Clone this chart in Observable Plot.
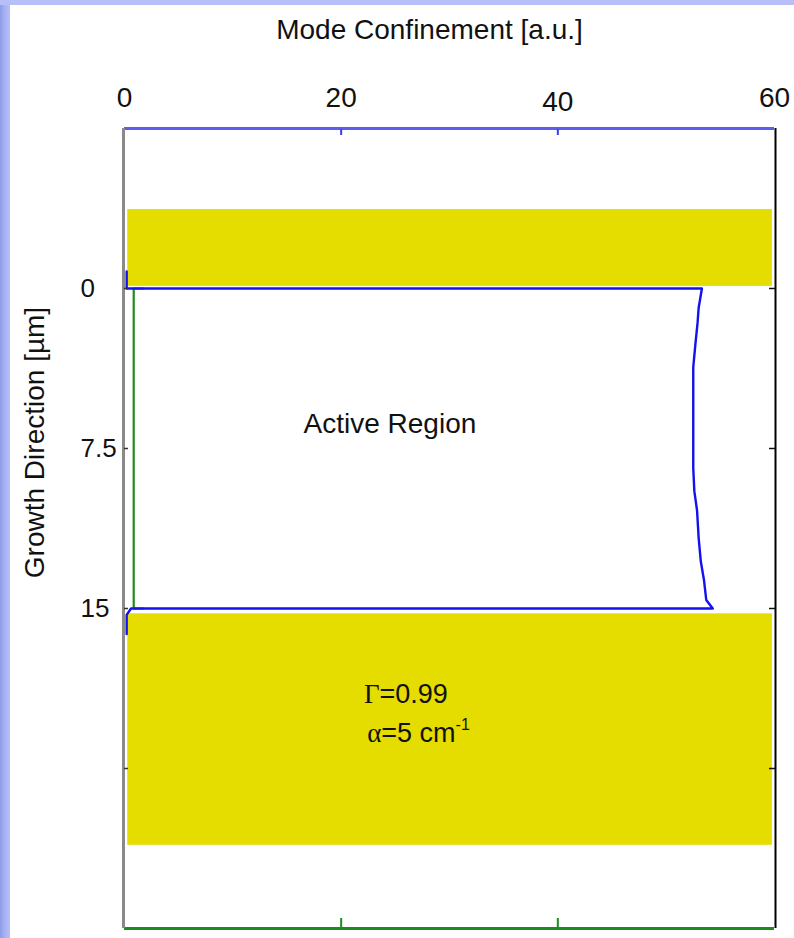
<!DOCTYPE html>
<html><head><meta charset="utf-8">
<script src="https://cdn.jsdelivr.net/npm/d3@7"></script>
<script src="https://cdn.jsdelivr.net/npm/@observablehq/plot@0.6"></script>
<style>
html,body{margin:0;padding:0;}
body{width:794px;height:938px;position:relative;overflow:hidden;background:#fff;font-family:"Liberation Sans",Arial,sans-serif;}
#leftStrip{position:absolute;left:0;top:0;width:10px;height:938px;background:linear-gradient(90deg,#8e9be6 0px,#a9b3f2 5px,#b6bff8 10px);}
#topStrip{position:absolute;left:0;top:0;width:794px;height:5px;background:#b6bff8;}
#chart{position:absolute;left:0;top:0;}
</style></head><body>
<div id="leftStrip"></div><div id="topStrip"></div><div id="chart"></div>
<script>
// ---- data ----
const xDomain = [0, 60];
const yDomain = [-7.5, 30];
const xTickLabels = [0, 20, 60];
const xTickLabelsLow = [40];
const xInnerTicks = [20, 40];
const yTickLabels = [0, 7.5, 15];
const yTicks = [0, 7.5, 15, 22.5];

// cladding (yellow) layers: depth ranges [µm] and confinement extent
const claddingY1 = [-3.7, 15.25];
const claddingY2 = [-0.1, 26.1];
const claddingX1 = [0.3, 0.3];
const claddingX2 = [59.8, 59.8];

// mode profile (blue)
const modeDepth = [-0.8, 0, 0, 0.9, 1.6, 2.6, 3.7, 8.4, 9.5, 10.4, 11.7, 12.8, 13.7, 14.6, 15, 15, 15.3, 16.2];
const modeValue = [0.2, 0.2, 53.3, 53.0, 52.9, 52.7, 52.5, 52.5, 52.6, 52.85, 53.0, 53.2, 53.5, 53.7, 54.3, 0.6, 0.2, 0.2];

// active-region outline (green)
const greenDepth = [0, 0, 15, 15];
const greenValue = [1.75, 0.85, 0.85, 1.75];

// annotations
const annoText = ["Active Region", "Γ=0.99", "α=5 cm⁻¹"];
const annoX = [24.5, 22.1, 22.4];
const annoY = [6.33, 19.03, 20.84];

const xTitle = "Mode Confinement [a.u.]";
const yTitle = "Growth Direction [µm]";

// ---- build tables ----
const cladding = claddingY1.map((y1, i) => ({y1, y2: claddingY2[i], x1: claddingX1[i], x2: claddingX2[i]}));
const mode = modeDepth.map((d, i) => ({d, v: modeValue[i]}));
const green = greenDepth.map((d, i) => ({d, v: greenValue[i]}));
const annos = annoText.map((t, i) => ({t, x: annoX[i], y: annoY[i]}));

const font = '"Liberation Sans", Arial, Helvetica, sans-serif';
const blank = () => "";

const svg = Plot.plot({
  width: 794, height: 938,
  marginLeft: 124, marginRight: 20, marginTop: 128, marginBottom: 10,
  style: {background: "transparent", fontFamily: font, fontSize: "28px", color: "#111", overflow: "visible"},
  x: {domain: xDomain, label: null},
  y: {domain: yDomain, reverse: true, label: null},
  marks: [
    Plot.rect(cladding, {x1: "x1", x2: "x2", y1: "y1", y2: "y2", fill: "#e5dc00"}),
    Plot.line(green, {x: "v", y: "d", stroke: "#1e8c1e", strokeWidth: 2.2}),
    Plot.line(mode, {x: "v", y: "d", stroke: "#1212ee", strokeWidth: 2.4}),
    // frame
    Plot.ruleY([yDomain[0]], {stroke: "#5d5def", strokeWidth: 3}),
    Plot.ruleY([yDomain[1]], {stroke: "#1e8a1e", strokeWidth: 3}),
    Plot.ruleX([xDomain[0]], {stroke: "#8a8a8a", strokeWidth: 3, dx: -1}),
    Plot.ruleX([xDomain[1]], {stroke: "#000", strokeWidth: 2, dx: 1}),
    // inward ticks
    Plot.axisX({anchor: "top", ticks: xInnerTicks, tickSize: -6, stroke: "#3c3cf0", strokeWidth: 2, tickFormat: blank}),
    Plot.axisX({anchor: "bottom", ticks: xInnerTicks, tickSize: -10, stroke: "#1e8c1e", strokeWidth: 2, tickFormat: blank}),
    Plot.axisY({anchor: "left", ticks: yTicks, tickSize: -4, stroke: "#333", strokeWidth: 1.5, tickFormat: blank}),
    Plot.axisY({anchor: "right", ticks: yTicks, tickSize: -6, stroke: "#111", strokeWidth: 1.5, tickFormat: blank}),
    // tick labels
    Plot.axisX({anchor: "top", ticks: xTickLabels, tickSize: 0, tickPadding: 22, fontSize: 28, fill: "#111"}),
    Plot.axisX({anchor: "top", ticks: xTickLabelsLow, tickSize: 0, tickPadding: 18, fontSize: 28, fill: "#111"}),
    Plot.axisY({anchor: "left", ticks: yTickLabels, tickSize: 0, tickPadding: 44, textAnchor: "start", fontSize: 26, fill: "#111", tickFormat: d => String(d)}),
    // titles
    Plot.text([xTitle], {frameAnchor: "top", lineAnchor: "middle", dy: -98, dx: -20, fontSize: 28, fill: "#111"}),
    Plot.text([yTitle], {frameAnchor: "left", textAnchor: "middle", lineAnchor: "middle", rotate: -90, dx: -89, dy: -86, fontSize: 28, fill: "#111"}),
    // annotations
    Plot.text(annos.slice(0, 1), {x: "x", y: "y", text: "t", textAnchor: "middle", fontSize: 28, fill: "#111"}),
    Plot.text(annos.slice(1), {x: "x", y: "y", text: "t", textAnchor: "start", fontSize: 27, fill: "#111"})
  ]
});

// Greek symbols in serif face; superscript exponent
d3.select(svg).selectAll("text").each(function () {
  const t = this.textContent;
  if (t.startsWith("Γ") || t.startsWith("α")) {
    const sel = d3.select(this);
    sel.text("");
    sel.append("tspan").attr("font-family", '"Liberation Serif", "Times New Roman", serif').text(t[0]);
    let rest = t.slice(1);
    let sup = null;
    if (rest.endsWith("⁻¹")) { sup = "-1"; rest = rest.slice(0, -2); }
    sel.append("tspan").text(rest);
    if (sup) sel.append("tspan").attr("font-size", "16px").attr("dy", "-0.75em").text(sup);
  }
});

document.getElementById("chart").appendChild(svg);
</script></body></html>
